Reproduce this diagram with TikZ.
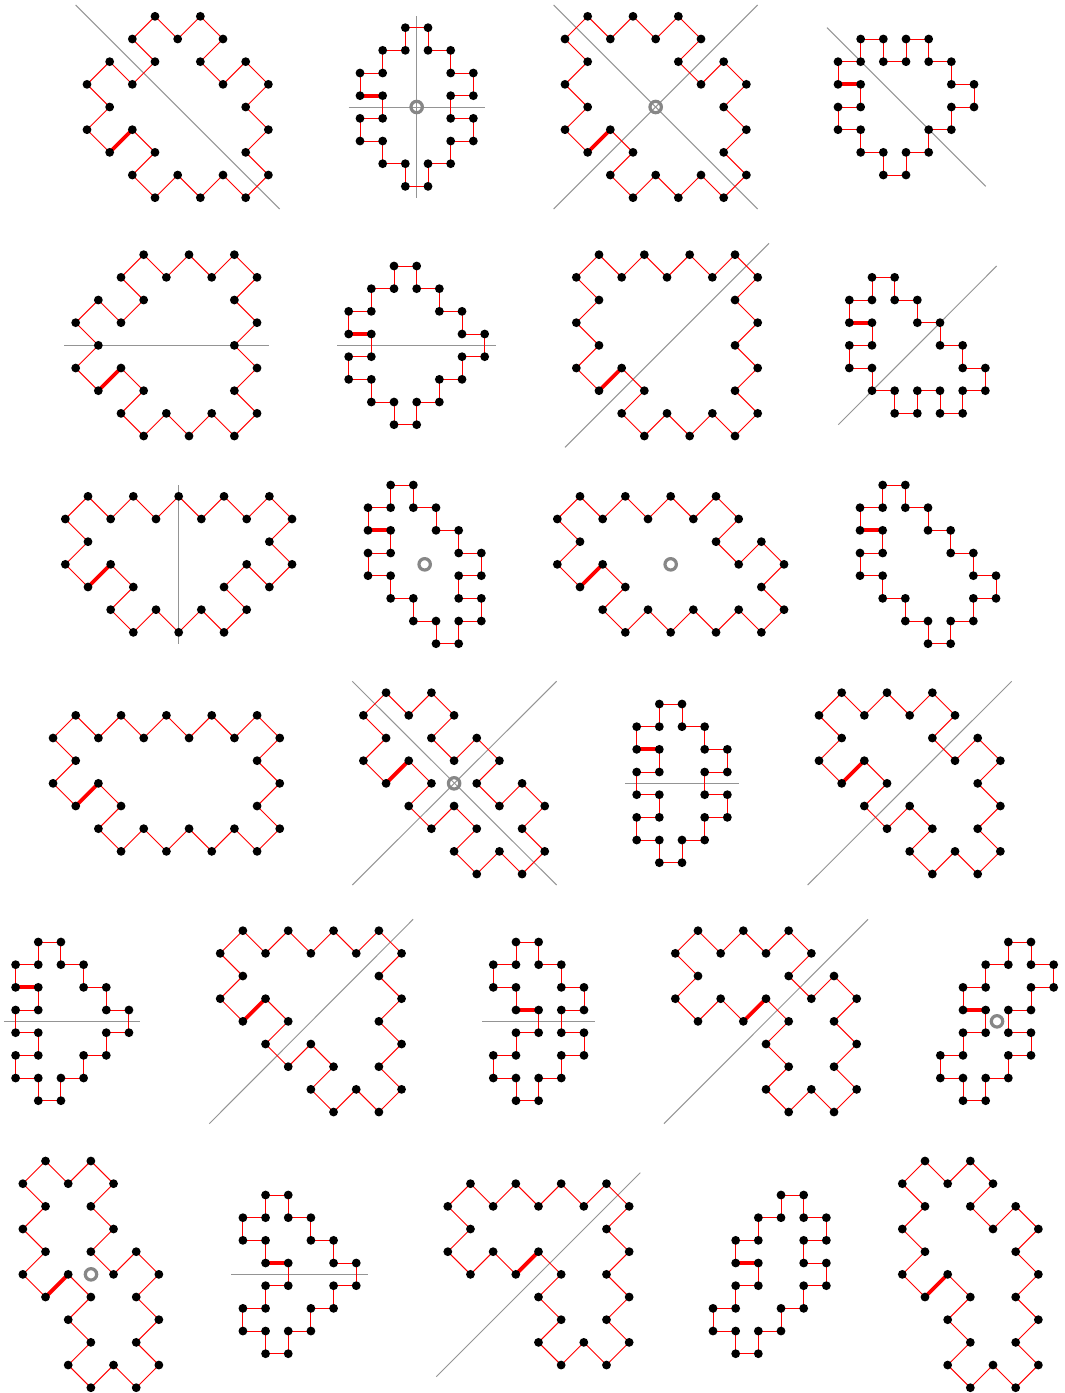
\documentclass[tikz,border=0pt]{standalone}
\pgfdeclarelayer{under}
\pgfsetlayers{under,main}
\tikzset{
  vertexdot/.style={circle,fill=black,draw=none,inner sep=0pt,outer sep=0pt,minimum size=8.8pt},
  edgeline/.style={draw=red,line width=0.95pt},
  firstedge/.style={draw=red,line width=3.8pt},
  axisstroke/.style={draw=black!42,line width=1pt},
  ringmark/.style={circle,draw=black!47,line width=3.2pt,fill=none,inner sep=0pt,minimum size=11.4pt}
}
\def\gridstep{22.67}
% name, x0, y0, list of i/j grid positions
\newcommand\polyg[4]{%
  \begin{scope}[shift={(#2,#3)}]
    \foreach \i/\j [count=\k] in {#4} {
      \node[vertexdot] (#1-\k) at ({\i*\gridstep},{\j*\gridstep}) {};
      \xdef\lastidx{\k}
    }
  \end{scope}
  \begin{pgfonlayer}{under}
    \draw[firstedge] (#1-1.center) -- (#1-2.center);
    \foreach \k [remember=\k as \p (initially 2)] in {3,...,\lastidx} {
      \draw[edgeline] (#1-\p.center) -- (#1-\k.center);
    }
    \draw[edgeline] (#1-\lastidx.center) -- (#1-1.center);
  \end{pgfonlayer}
}
% name, x1, y1, x2, y2
\newcommand\axisline[5]{%
  \coordinate (#1a) at (#2,#3);
  \coordinate (#1b) at (#4,#5);
  \begin{pgfonlayer}{under}
    \draw[axisstroke] (#1a) -- (#1b);
  \end{pgfonlayer}
}
\begin{document}
\begin{tikzpicture}[x=1pt,y=-1pt]
\useasboundingbox (0,0) rectangle (1065,1393);
% row 1
\axisline{la}{75.67}{5}{279.67}{209}
\polyg{a}{87}{16.33}{1/6,2/5,3/6,2/7,3/8,4/7,5/8,6/7,7/8,8/7,7/6,8/5,7/4,8/3,7/2,6/3,5/2,6/1,5/0,4/1,3/0,2/1,3/2,2/3,1/2,0/3,1/4,0/5}
\axisline{lba}{416.67}{16.33}{416.67}{197.67}
\axisline{lbb}{348.67}{107}{485}{107}
\polyg{b}{360}{27.67}{0/3,1/3,1/4,0/4,0/5,1/5,1/6,2/6,2/7,3/7,3/6,4/6,4/5,5/5,5/4,4/4,4/3,5/3,5/2,4/2,4/1,3/1,3/0,2/0,2/1,1/1,1/2,0/2}
\node[ringmark] (rb) at (416.67,107) {};
\axisline{lca}{553.67}{5}{757.67}{209}
\axisline{lcb}{553.67}{209}{757.67}{5}
\polyg{c}{565}{16.33}{1/6,2/5,3/6,2/7,3/8,4/7,5/8,6/7,7/8,8/7,7/6,8/5,7/4,8/3,7/2,6/3,5/2,6/1,5/0,4/1,3/0,2/1,1/0,0/1,1/2,0/3,1/4,0/5}
\node[ringmark] (rc) at (655.67,107) {};
\axisline{ld}{827}{27.67}{985.67}{186.33}
\polyg{d}{838}{39}{0/2,1/2,1/3,0/3,0/4,1/4,1/5,2/5,2/6,3/6,3/5,4/5,4/4,5/4,5/3,6/3,6/2,5/2,5/1,4/1,4/0,3/0,3/1,2/1,2/0,1/0,1/1,0/1}
% row 2
\axisline{le}{64.33}{345.33}{268.67}{345.33}
\polyg{e}{75.67}{254.67}{1/6,2/5,3/6,2/7,3/8,4/7,5/8,6/7,7/8,8/7,7/6,8/5,7/4,8/3,7/2,8/1,7/0,6/1,5/0,4/1,3/0,2/1,3/2,2/3,1/2,0/3,1/4,0/5}
\axisline{lf}{337.33}{345.33}{496}{345.33}
\polyg{f}{348.67}{266}{0/3,1/3,1/4,0/4,0/5,1/5,1/6,2/6,2/7,3/7,3/6,4/6,4/5,5/5,5/4,6/4,6/3,5/3,5/2,4/2,4/1,3/1,3/0,2/0,2/1,1/1,1/2,0/2}
\axisline{lg}{565}{447.33}{769}{243.33}
\polyg{g}{576.33}{254.67}{1/6,2/5,3/6,2/7,3/8,4/7,5/8,6/7,7/8,8/7,7/6,8/5,7/4,8/3,7/2,8/1,7/0,6/1,5/0,4/1,3/0,2/1,1/0,0/1,1/2,0/3,1/4,0/5}
\axisline{lh}{838.33}{424.67}{996.67}{266}
\polyg{h}{849.33}{277.33}{0/2,1/2,1/3,0/3,0/4,1/4,1/5,2/5,2/6,3/6,3/5,4/5,4/6,5/6,5/5,6/5,6/4,5/4,5/3,4/3,4/2,3/2,3/1,2/1,2/0,1/0,1/1,0/1}
% row 3
\axisline{li}{178.67}{485}{178.67}{643.67}
\polyg{i}{65.33}{496.33}{1/4,2/3,3/4,2/5,3/6,4/5,5/6,6/5,7/6,8/5,7/4,8/3,9/4,10/3,9/2,10/1,9/0,8/1,7/0,6/1,5/0,4/1,3/0,2/1,1/0,0/1,1/2,0/3}
\polyg{j}{368}{485}{0/2,1/2,1/3,0/3,0/4,1/4,1/5,2/5,2/6,3/6,3/7,4/7,4/6,5/6,5/5,4/5,4/4,5/4,5/3,4/3,4/2,3/2,3/1,2/1,2/0,1/0,1/1,0/1}
\node[ringmark] (rj) at (424.67,564.33) {};
\polyg{k}{557.33}{496.33}{1/4,2/3,3/4,2/5,3/6,4/5,5/6,6/5,7/6,8/5,9/6,10/5,9/4,10/3,9/2,8/3,7/2,8/1,7/0,6/1,5/0,4/1,3/0,2/1,1/0,0/1,1/2,0/3}
\node[ringmark] (rk) at (670.67,564.33) {};
\polyg{l}{860}{485}{0/2,1/2,1/3,0/3,0/4,1/4,1/5,2/5,2/6,3/6,3/7,4/7,4/6,5/6,5/5,6/5,6/4,5/4,5/3,4/3,4/2,3/2,3/1,2/1,2/0,1/0,1/1,0/1}
% row 4
\polyg{m}{53.06}{715.33}{1/4,2/3,3/4,2/5,3/6,4/5,5/6,6/5,7/6,8/5,9/6,10/5,9/4,10/3,9/2,10/1,9/0,8/1,7/0,6/1,5/0,4/1,3/0,2/1,1/0,0/1,1/2,0/3}
\axisline{lna}{352.3}{681.33}{556.6}{885}
\axisline{lnb}{352.3}{885}{556.6}{681.33}
\polyg{n}{363.4}{692.67}{1/4,2/3,3/4,2/5,3/6,4/5,5/6,4/7,5/8,6/7,7/8,8/7,7/6,8/5,7/4,6/5,5/4,6/3,5/2,4/3,3/2,4/1,3/0,2/1,1/0,0/1,1/2,0/3}
\node[ringmark] (rn) at (454.1,783.33) {};
\axisline{lo}{625.33}{783}{738.67}{783}
\polyg{o}{636.67}{704}{0/2,1/2,1/3,0/3,0/4,1/4,1/5,0/5,0/6,1/6,1/7,2/7,2/6,3/6,3/5,4/5,4/4,3/4,3/3,4/3,4/2,3/2,3/1,2/1,2/0,1/0,1/1,0/1}
\axisline{lp}{807.67}{885}{1011.67}{681.33}
\polyg{p}{819}{692.67}{1/4,2/3,3/4,2/5,3/6,4/5,5/6,4/7,5/8,6/7,7/8,8/7,7/6,8/5,7/4,8/3,7/2,6/3,5/2,6/1,5/0,4/1,3/0,2/1,1/0,0/1,1/2,0/3}
% row 5
\axisline{lq}{3.9}{1021.33}{140}{1021.33}
\polyg{q}{15.6}{942}{0/2,1/2,1/3,0/3,0/4,1/4,1/5,0/5,0/6,1/6,1/7,2/7,2/6,3/6,3/5,4/5,4/4,5/4,5/3,4/3,4/2,3/2,3/1,2/1,2/0,1/0,1/1,0/1}
\axisline{lr}{209.3}{1123.67}{413.1}{919.33}
\polyg{r}{220.2}{930.67}{1/4,2/3,3/4,2/5,3/6,4/5,5/6,4/7,5/8,6/7,7/8,8/7,7/6,8/5,7/4,8/3,7/2,8/1,7/0,6/1,5/0,4/1,3/0,2/1,1/0,0/1,1/2,0/3}
\axisline{ls}{482}{1021.33}{595.2}{1021.33}
\polyg{s}{493.3}{942}{1/3,2/3,2/4,1/4,1/5,0/5,0/6,1/6,1/7,2/7,2/6,3/6,3/5,4/5,4/4,3/4,3/3,4/3,4/2,3/2,3/1,2/1,2/0,1/0,1/1,0/1,0/2,1/2}
\axisline{lt}{664}{1123.67}{868}{919.33}
\polyg{t}{675.33}{930.67}{3/4,4/3,5/4,4/5,5/6,4/7,5/8,6/7,7/8,8/7,7/6,8/5,7/4,8/3,7/2,6/3,5/2,6/1,5/0,4/1,3/0,2/1,1/0,0/1,1/2,0/3,1/4,2/3}
\polyg{u}{940.33}{942}{1/3,2/3,2/4,1/4,1/5,0/5,0/6,1/6,1/7,2/7,2/6,3/6,3/5,4/5,4/4,3/4,3/3,4/3,4/2,5/2,5/1,4/1,4/0,3/0,3/1,2/1,2/2,1/2}
\node[ringmark] (ru) at (997,1021.33) {};
% row 6
\polyg{v}{22.86}{1161}{1/6,2/5,3/6,2/7,3/8,2/9,3/10,4/9,5/10,6/9,5/8,6/7,5/6,6/5,5/4,4/5,3/4,4/3,3/2,4/1,3/0,2/1,1/0,0/1,1/2,0/3,1/4,0/5}
\node[ringmark] (rv) at (91,1274.33) {};
\axisline{lw}{231.4}{1274.33}{367.8}{1274.33}
\polyg{w}{242.9}{1195}{1/3,2/3,2/4,1/4,1/5,0/5,0/6,1/6,1/7,2/7,2/6,3/6,3/5,4/5,4/4,5/4,5/3,4/3,4/2,3/2,3/1,2/1,2/0,1/0,1/1,0/1,0/2,1/2}
\axisline{lx}{436.3}{1376.67}{640.3}{1172.67}
\polyg{x}{447.8}{1183.67}{3/4,4/3,5/4,4/5,5/6,4/7,5/8,6/7,7/8,8/7,7/6,8/5,7/4,8/3,7/2,8/1,7/0,6/1,5/0,4/1,3/0,2/1,1/0,0/1,1/2,0/3,1/4,2/3}
\polyg{y}{713}{1195}{1/3,2/3,2/4,1/4,1/5,0/5,0/6,1/6,1/7,2/7,2/6,3/6,3/5,4/5,4/4,5/4,5/3,4/3,4/2,5/2,5/1,4/1,4/0,3/0,3/1,2/1,2/2,1/2}
\polyg{z}{902.33}{1161}{1/6,2/5,3/6,2/7,3/8,2/9,3/10,4/9,5/10,6/9,5/8,6/7,5/6,6/5,5/4,6/3,5/2,4/3,3/2,4/1,3/0,2/1,1/0,0/1,1/2,0/3,1/4,0/5}
\end{tikzpicture}
\end{document}
